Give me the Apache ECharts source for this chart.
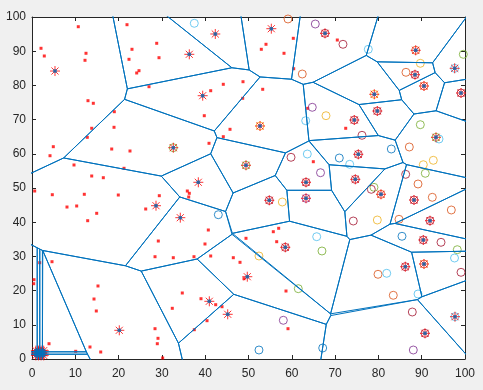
<!DOCTYPE html>
<html><head><meta charset="utf-8">
<script src="https://cdn.jsdelivr.net/npm/echarts@6/dist/echarts.min.js"></script>
<style>html,body{margin:0;padding:0;background:#f0f0f0}#c{width:483px;height:390px}</style>
</head><body><div id="c"></div>
<script>
// Voronoi sites (cluster heads, blue dots with red asterisks)
const sites = [
[5.31,84.2],[42.33,95.03],[36.33,89.09],[55.27,96.58],[39.42,76.99],[52.66,68.13],[67.67,95.23],
[88.61,90.26],[88.45,83.13],[90.53,79.82],[97.62,85.0],[79.05,77.4],[79.75,72.51],[99.08,77.78],
[74.43,69.88],[32.63,61.78],[49.42,56.64],[38.41,51.67],[34.25,41.32],[54.8,46.4],[58.5,32.66],
[63.28,51.67],[63.28,46.99],[75.36,59.85],[74.67,52.54],[80.6,48.16],[88.22,46.49],[93.3,64.82],
[91.92,40.44],[90.37,34.8],[28.64,44.82],[20.16,8.39],[49.72,24.06],[40.95,16.87],[45.2,13.07],
[86.21,26.99],[90.53,27.78],[97.69,12.37],[90.76,7.51],
// tight cluster near the origin
[0.9,1.05],[1.5,1.05],[2.1,1.05],[2.7,1.05],
[0.9,1.75],[1.5,1.75],[2.1,1.75],[2.7,1.75],
[0.9,2.45],[1.5,2.45],[2.1,2.45],[2.7,2.45]
];
// ordinary nodes (red dots)
const nodes = [
[10.69,97.16],[2.08,90.85],[2.84,88.6],[12.47,89.39],[12.24,87.34],[21.94,97.75],[23.09,90.56],
[22.4,87.63],[24.71,84.3],[24.18,83.63],[27.02,79.62],[28.8,92.31],[29.33,88.1],[12.93,75.53],
[14.16,74.77],[19.01,72.31],[13.79,67.46],[18.94,67.75],
[4.92,62.08],[4.16,59.44],[12.77,64.82],[18.41,61.4],[22.63,60.82],[9.7,56.73],[21.25,55.76],
[13.79,53.51],[16.47,53.01],[0.62,49.12],[4.69,48.04],[12.08,48.16],[19.93,47.95],[8.08,44.44],
[10.32,44.74],[26.26,43.86],[14.94,42.6],[12.86,40.44],[29.4,47.75],[29.17,34.5],[28.41,29.91],
[54.04,92.02],[52.96,90.56],[58.2,89.39],[60.35,93.77],[60.44,84.88],[44.18,80.32],[48.73,81.08],
[41.27,78.45],[53.28,78.86],[48.66,76.23],[39.79,71.14],[63.67,73.3],[45.73,67.16],
[70.51,93.27],[72.45,67.46],
[44.18,65.0],[40.88,63.07],[64.97,57.69],[35.87,49.12],[36.33,48.45],[36.19,47.37],[40.72,37.72],
[39.95,33.63],[37.41,29.91],[32.63,29.62],[41.27,30.12],[46.49,29.62],[49.42,35.29],[55.73,37.22],
[56.97,38.22],[56.51,34.3],
[34.71,19.3],[39.03,17.63],[32.4,14.82],[42.42,15.88],[43.88,15.29],
[48.04,28.27],[40.42,11.2],[37.48,8.57],[30.18,0.3],[58.66,19.88],[59.12,8.86],[48.96,23.48],
[1.78,28.16],[4.62,28.45],[0.46,23.19],[0.39,22.02],[15.24,21.35],[14.32,17.54],[14.85,14.04],
[3.93,4.47],[13.39,3.51],[10.09,2.25],[15.87,2.05],[28.41,8.86],[29.1,6.05],[28.94,4.47]
];
// coloured circles
const lightBlueC = [[37.48,98.16],[63.21,69.68],[77.67,90.56],[63.58,59.94],[65.75,35.76],[73.37,56.93],
[81.92,25.06],[89.15,19.01],[97.58,29.53],[94.0,64.33],[97.62,85.0],[97.69,12.37]];
const orangeC = [[59.12,99.42],[62.42,83.33],[86.37,83.83],[89.15,51.17],[87.14,61.99],[92.45,47.28],
[96.84,43.57],[84.76,40.85],[79.91,24.77],[83.44,18.63],[88.61,90.26],[90.53,79.82],[80.6,48.16],[90.53,27.78]];
const yellowC = [[89.68,86.46],[67.9,71.14],[57.81,45.91],[92.68,58.1],[90.37,56.81],[79.75,40.64],
[52.42,30.12],[52.66,68.13],[79.05,77.4]];
const purpleC = [[65.43,97.95],[64.73,73.6],[66.63,54.47],[58.04,11.32],[88.06,2.63],[63.28,46.99]];
const greenC = [[99.61,89.09],[89.68,68.51],[66.97,31.58],[90.83,54.3],[78.98,50.2],[98.22,31.96],
[61.5,20.56],[32.63,61.78],[49.42,56.64],[93.3,64.82]];
const darkRedC = [[71.82,92.02],[59.82,58.98],[76.21,65.41],[86.3,54.0],[78.36,49.62],[74.2,40.35],
[94.46,34.12],[87.83,13.74],[99.08,25.35],
[67.67,95.23],[88.45,83.13],[79.75,72.51],[99.08,77.78],[74.43,69.88],[54.8,46.4],[58.5,32.66],
[63.28,51.67],[75.36,59.85],[74.67,52.54],[88.22,46.49],[91.92,40.44],[90.37,34.8],[86.21,26.99],[90.76,7.51]];
const blueC = [[43.03,42.19],[82.98,61.4],[70.97,58.77],[85.45,35.88],[67.14,3.22],[52.42,2.63]];
const ticks = [0,10,20,30,40,50,60,70,80,90,100];

// Voronoi cells by half-plane clipping
function clip(poly,a,b,c){
  const out=[]; const n=poly.length;
  for(let k=0;k<n;k++){
    const P=poly[k],Q=poly[(k+1)%n];
    const fp=a*P[0]+b*P[1]-c, fq=a*Q[0]+b*Q[1]-c;
    if(fp<=0) out.push(P);
    if((fp<0&&fq>0)||(fp>0&&fq<0)){const t=fp/(fp-fq);out.push([P[0]+t*(Q[0]-P[0]),P[1]+t*(Q[1]-P[1])]);}
  }
  return out;
}
const cells = sites.map((s,i)=>{
  let poly=[[-1000,-1000],[1100,-1000],[1100,1100],[-1000,1100]];
  sites.forEach((t,j)=>{ if(j===i) return;
    const a=t[0]-s[0], b=t[1]-s[1], c=(t[0]*t[0]+t[1]*t[1]-s[0]*s[0]-s[1]*s[1])/2;
    poly=clip(poly,a,b,c);
  });
  return poly.concat([poly[0]]);
});

const axisCol='#262626';
const star='path://M5 0L5 10M0 5L10 5M1.46 1.46L8.54 8.54M1.46 8.54L8.54 1.46';
function ring(data,col){return {type:'scatter',data,symbol:'circle',symbolSize:8,silent:true,
  itemStyle:{color:'rgba(0,0,0,0)',borderColor:col,borderWidth:1}};}
const series=[];
series.push({type:'scatter',data:nodes,symbol:'rect',symbolSize:3,silent:true,itemStyle:{color:'#ff0000'}});
series.push(ring(blueC,'#0072BD'),ring(orangeC,'#D95319'),ring(yellowC,'#EDB120'),ring(purpleC,'#7E2F8E'),
  ring(greenC,'#77AC30'),ring(lightBlueC,'#4DBEEE'),ring(darkRedC,'#A2142F'));
cells.forEach(p=>series.push({type:'line',data:p,showSymbol:false,symbol:'none',silent:true,clip:true,
  lineStyle:{color:'#0072BD',width:1}}));
series.push({type:'scatter',data:sites,symbol:star,symbolSize:10,silent:true,
  itemStyle:{color:'none',borderColor:'#ff0000',borderWidth:1}});
series.push({type:'scatter',data:sites,symbol:'circle',symbolSize:4,silent:true,itemStyle:{color:'#0072BD'}});

function ax(pos,show){
  return {type:'value',position:pos,min:ticks[0],max:ticks[ticks.length-1],interval:10,
    axisLine:{show:true,onZero:false,lineStyle:{color:axisCol,width:1}},
    axisTick:{show:true,inside:true,length:4,lineStyle:{color:axisCol}},
    axisLabel:{show:show,color:axisCol,fontSize:12,fontFamily:'Liberation Sans, Arial, sans-serif',margin:pos==='bottom'?9:6},
    splitLine:{show:false}};
}
const chart=echarts.init(document.getElementById('c'),null,{renderer:'canvas'});
chart.setOption({
  animation:false,backgroundColor:'#f0f0f0',
  grid:{left:32,right:18,top:17,bottom:31,show:true,backgroundColor:'#ffffff',borderWidth:0},
  xAxis:[ax('bottom',true),ax('top',false)],
  yAxis:[ax('left',true),ax('right',false)],
  series:series
});
</script></body></html>
